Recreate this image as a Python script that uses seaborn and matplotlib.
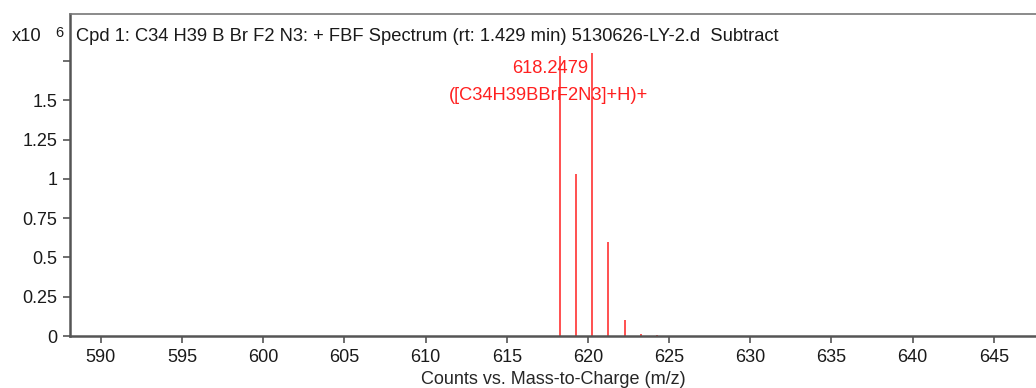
import matplotlib
matplotlib.use("Agg")
import matplotlib.pyplot as plt
import seaborn as sns

# peak list (m/z, counts x10^6)
mz = [618.25, 619.25, 620.26, 621.26, 622.26, 623.27, 624.27]
counts = [1.78, 1.03, 1.80, 0.60, 0.10, 0.015, 0.005]

y_ticks = [0, 0.25, 0.5, 0.75, 1, 1.25, 1.5, 1.75]
y_labels = ["0", "0.25", "0.5", "0.75", "1", "1.25", "1.5", ""]
x_ticks = [590, 595, 600, 605, 610, 615, 620, 625, 630, 635, 640, 645]

title = "Cpd 1: C34 H39 B Br F2 N3: + FBF Spectrum (rt: 1.429 min) 5130626-LY-2.d  Subtract"
peak_label = "618.2479"
ion_label = "([C34H39BBrF2N3]+H)+"

sns.set_style("ticks")
plt.rcParams['font.family'] = ['Liberation Sans', 'DejaVu Sans']
plt.rcParams['text.color'] = '#1a1a1a'
plt.rcParams['xtick.labelcolor'] = '#1a1a1a'
plt.rcParams['ytick.labelcolor'] = '#1a1a1a'

fig = plt.figure(figsize=(10.36, 3.88), dpi=100)
ax = fig.add_axes([0.0676, 0.134, 0.9324, 0.830])

ax.vlines(mz, 0, counts, color="#ff2020", lw=1.1)

ax.set_xlim(588.1, 647.6)
ax.set_ylim(0, 2.05)
ax.set_xticks(x_ticks)
ax.set_yticks(y_ticks)
ax.set_yticklabels(y_labels)
ax.tick_params(labelsize=13, length=5, width=1.2, color="#555555", pad=4)

for s in ["left", "bottom"]:
    ax.spines[s].set_color("#555555")
    ax.spines[s].set_linewidth(1.8)
ax.spines["top"].set_color("#777777")
ax.spines["top"].set_linewidth(1.2)
ax.spines["right"].set_visible(False)

ax.text(0.006, 0.93, title, transform=ax.transAxes, fontsize=13.2, va="center", ha="left")
ax.text(617.7, 1.70, peak_label, color="#ff2020", fontsize=13.2, ha="center", va="center")
ax.text(617.6, 1.53, ion_label, color="#ff2020", fontsize=13.2, ha="center", va="center")

fig.text(0.011, 0.905, "x10", fontsize=13.2, va="center")
fig.text(0.053, 0.915, "6", fontsize=10.5, va="center")

ax.set_xlabel("Counts vs. Mass-to-Charge (m/z)", fontsize=13, labelpad=4)

plt.savefig("out.png", dpi=100)
